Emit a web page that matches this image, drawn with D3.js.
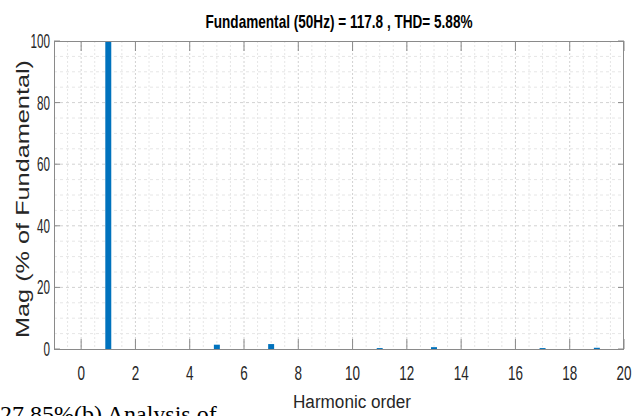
<!DOCTYPE html>
<html><head><meta charset="utf-8">
<script src="https://cdn.jsdelivr.net/npm/d3@7"></script>
<style>body{margin:0;background:#fff;}svg{display:block;}</style>
</head><body>
<svg id="c" width="644" height="416"></svg>
<script>
const harmonics = [0,1,2,3,4,5,6,7,8,9,10,11,12,13,14,15,16,17,18,19,20];
const magnitudes = [0,100,0,0,0,1.4,0,1.6,0,0,0,0.3,0,0.6,0,0,0,0.3,0,0.4,0];
const xTicks = [0,2,4,6,8,10,12,14,16,18,20];
const yTicks = [0,20,40,60,80,100];
const titleText = "Fundamental (50Hz) = 117.8 , THD= 5.88%";
const xLabel = "Harmonic order";
const yLabel = "Mag (% of Fundamental)";
const captionText = "27.85%(b) Analysis of";

const svg = d3.select("#c");
const L=54, R=624, T=41, B=349;
const x = d3.scaleLinear().domain([-1,20]).range([L,R]);
const y = d3.scaleLinear().domain([0,100]).range([B,T]);
const sans = "'Liberation Sans',Arial,sans-serif";

// grid
const g = svg.append("g");
g.selectAll("line.vx").data(d3.range(-0.5,20,0.5)).join("line")
  .attr("x1",d=>x(d)).attr("x2",d=>x(d)).attr("y1",T).attr("y2",B)
  .attr("stroke", d=> d%2===0 ? "#d2d2d2" : "#e6e6e6").attr("stroke-width",1).attr("stroke-dasharray","2,2");
g.selectAll("line.hy").data(d3.range(5,100,5)).join("line")
  .attr("y1",d=>y(d)).attr("y2",d=>y(d)).attr("x1",L).attr("x2",R)
  .attr("stroke", d=> d%20===0 ? "#d2d2d2" : "#e6e6e6").attr("stroke-width",1).attr("stroke-dasharray","3,3");

// bars
const bw = 0.22;
svg.append("g").selectAll("rect").data(harmonics.map((h,i)=>({h,v:magnitudes[i]})).filter(d=>d.v>0)).join("rect")
  .attr("x",d=>x(d.h-bw/2)).attr("width",x(bw)-x(0))
  .attr("y",d=>y(d.v)).attr("height",d=>y(0)-y(d.v))
  .attr("fill","#0072BD");

// axes box
const ax = svg.append("g").attr("stroke","#8a8a8a").attr("fill","none");
ax.append("rect").attr("x",L+0.5).attr("y",T+0.5).attr("width",R-L-1).attr("height",B-T);
xTicks.forEach(t=>{
  ax.append("line").attr("x1",x(t)).attr("x2",x(t)).attr("y1",B).attr("y2",B-10);
  ax.append("line").attr("x1",x(t)).attr("x2",x(t)).attr("y1",T).attr("y2",T+10);
});
yTicks.forEach(t=>{
  ax.append("line").attr("y1",y(t)).attr("y2",y(t)).attr("x1",L).attr("x2",L+6);
  ax.append("line").attr("y1",y(t)).attr("y2",y(t)).attr("x1",R).attr("x2",R-6);
});

// tick labels (condensed)
svg.append("g").selectAll("text").data(xTicks).join("text")
  .attr("x",d=>x(d)).attr("y",380).attr("text-anchor","middle")
  .attr("font-family",sans).attr("font-size",20.5).attr("fill","#262626")
  .attr("textLength",d=>String(d).length*7.5).attr("lengthAdjust","spacingAndGlyphs").text(d=>d);
svg.append("g").selectAll("text").data(yTicks).join("text")
  .attr("x",50).attr("y",d=>y(d)+7).attr("text-anchor","end")
  .attr("font-family",sans).attr("font-size",19.5).attr("fill","#262626")
  .attr("textLength",d=>String(d).length*6.5).attr("lengthAdjust","spacingAndGlyphs").text(d=>d);

// title
svg.append("text").attr("x",339).attr("y",28).attr("text-anchor","middle")
  .attr("font-family",sans).attr("font-size",19).attr("font-weight","bold").attr("fill","#000")
  .attr("textLength",267).attr("lengthAdjust","spacingAndGlyphs").text(titleText);
// x label
svg.append("text").attr("x",352).attr("y",408).attr("text-anchor","middle")
  .attr("font-family",sans).attr("font-size",18).attr("fill","#262626")
  .attr("textLength",118).attr("lengthAdjust","spacingAndGlyphs").text(xLabel);
// y label
svg.append("text").attr("transform","translate(29,199) rotate(-90)").attr("text-anchor","middle")
  .attr("font-family",sans).attr("font-size",19).attr("fill","#262626")
  .attr("textLength",278).attr("lengthAdjust","spacingAndGlyphs").text(yLabel);
// clipped caption at bottom
svg.append("text").attr("x",0).attr("y",422)
  .attr("font-family","'Liberation Serif','Times New Roman',serif").attr("font-size",24).attr("fill","#000")
  .text(captionText);
</script>
</body></html>
